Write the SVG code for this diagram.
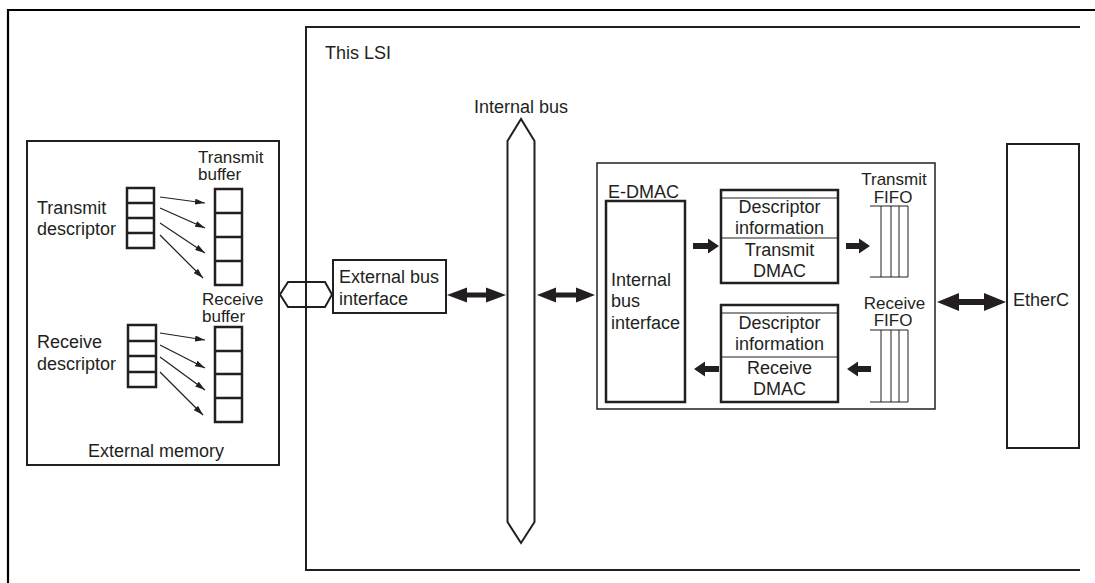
<svg xmlns="http://www.w3.org/2000/svg" width="1095" height="583" viewBox="0 0 1095 583">
<style>
text{font-family:"Liberation Sans",Arial,sans-serif;font-size:18px;fill:#231f20}
text.s{font-size:17px}
.m{text-anchor:middle}
.e{text-anchor:end}
.b{fill:none;stroke:#231f20;stroke-width:2}
.bt{fill:none;stroke:#231f20;stroke-width:2.5}
.t{fill:none;stroke:#231f20;stroke-width:1}
.thin{fill:none;stroke:#231f20;stroke-width:1.2;marker-end:url(#ah)}
.fa{fill:#231f20;stroke:none}
</style>
<defs>
<marker id="ah" viewBox="0 0 10 6" refX="10" refY="3" markerWidth="10" markerHeight="6" markerUnits="userSpaceOnUse" orient="auto">
<path d="M0,0 L10,3 L0,6 z" fill="#231f20"/>
</marker>
</defs>
<rect width="1095" height="583" fill="#fff"/>
<g id="frame">
<path d="M8,583 V10 H1095" fill="none" stroke="#000" stroke-width="2.2"/>
</g>
<g id="lsi">
<path d="M1080,27 H306 V570 H1080" class="b"/>
<text x="325" y="59">This LSI</text>
</g>
<g id="external-memory">
<rect x="27" y="141" width="252" height="324" class="b"/>
<text x="156" y="457" class="m">External memory</text>
<text x="198" y="163" class="s">Transmit</text>
<text x="198" y="180" class="s">buffer</text>
<text x="37" y="214">Transmit</text>
<text x="37" y="235">descriptor</text>
<text x="202" y="305" class="s">Receive</text>
<text x="202" y="322" class="s">buffer</text>
<text x="37" y="348">Receive</text>
<text x="37" y="370">descriptor</text>
<g id="tx-desc">
<rect x="127" y="188" width="27" height="60" class="bt"/>
<path d="M127,203 H154 M127,218 H154 M127,233 H154" class="bt"/>
</g>
<g id="tx-buf">
<rect x="215" y="189" width="27" height="96" class="bt"/>
<path d="M215,213 H242 M215,237 H242 M215,261 H242" class="bt"/>
</g>
<g id="rx-desc">
<rect x="128" y="325" width="28" height="62" class="bt"/>
<path d="M128,341 H156 M128,356 H156 M128,372 H156" class="bt"/>
</g>
<g id="rx-buf">
<rect x="215" y="327" width="27" height="95" class="bt"/>
<path d="M215,351 H242 M215,374 H242 M215,398 H242" class="bt"/>
</g>
</g>
<g id="connectors">
<line x1="160" y1="197" x2="205" y2="203" class="thin"/>
<line x1="160" y1="208" x2="205" y2="228" class="thin"/>
<line x1="160" y1="223" x2="205" y2="253" class="thin"/>
<line x1="160" y1="235" x2="203" y2="278" class="thin"/>
<line x1="160" y1="333" x2="205" y2="340" class="thin"/>
<line x1="160" y1="345" x2="205" y2="368" class="thin"/>
<line x1="160" y1="357" x2="205" y2="390" class="thin"/>
<line x1="160" y1="372" x2="203" y2="415" class="thin"/>
<polygon class="fa" points="447,295 467,287.5 467,292.5 486,292.5 486,287.5 506,295 486,302.5 486,297.5 467,297.5 467,302.5"/>
<polygon class="fa" points="537,295 556,287.5 556,292.5 576,292.5 576,287.5 595,295 576,302.5 576,297.5 556,297.5 556,302.5"/>
<polygon class="fa" points="937,302 959,293 959,299 984,299 984,293 1006,302 984,311 984,305 959,305 959,311"/>
<polygon class="fa" points="693,243 708,243 708,238.5 719,246 708,253.5 708,249 693,249"/>
<polygon class="fa" points="846,243 859,243 859,238.5 870,246 859,253.5 859,249 846,249"/>
<polygon class="fa" points="719,366 705,366 705,361.5 694,369 705,376.5 705,372 719,372"/>
<polygon class="fa" points="871,366 858,366 858,361.5 847,369 858,376.5 858,372 871,372"/>
</g>
<g id="ext-bus-connector">
<polygon points="280,294.5 288,282 325,282 332,294.5 325,307 288,307" class="b"/>
</g>
<g id="external-bus-interface">
<rect x="333" y="260" width="113" height="53" class="b"/>
<text x="339" y="283">External bus</text>
<text x="339" y="305">interface</text>
</g>
<g id="internal-bus">
<polygon points="521,119 507.5,141 507.5,522 521,543 534.5,522 534.5,141" class="b"/>
<text x="568" y="113" class="e">Internal bus</text>
</g>
<g id="edmac">
<rect x="597" y="163" width="338" height="246" fill="none" stroke="#231f20" stroke-width="1.5"/>
<text x="608" y="198">E-DMAC</text>
<g id="internal-bus-interface">
<rect x="606" y="201" width="79" height="201" class="bt"/>
<text x="611" y="286">Internal</text>
<text x="611" y="307">bus</text>
<text x="611" y="329">interface</text>
</g>
<g id="transmit-dmac">
<rect x="721" y="190" width="117" height="93" class="bt"/>
<path d="M721,198 H838 M721,238 H838" class="t"/>
<text x="779.5" y="213" class="m">Descriptor</text>
<text x="779.5" y="234" class="m">information</text>
<text x="779.5" y="256" class="m">Transmit</text>
<text x="779.5" y="277" class="m">DMAC</text>
</g>
<g id="receive-dmac">
<rect x="721" y="305" width="117" height="97" class="bt"/>
<path d="M721,313 H838 M721,357 H838" class="t"/>
<text x="779.5" y="329" class="m">Descriptor</text>
<text x="779.5" y="350" class="m">information</text>
<text x="779.5" y="374" class="m">Receive</text>
<text x="779.5" y="395" class="m">DMAC</text>
</g>
<g id="transmit-fifo">
<text x="894" y="185" class="m s">Transmit</text>
<text x="893" y="203" class="m s">FIFO</text>
<path d="M870,206 H908 M870,277 H908 M881,206 V277 M891,206 V277 M899,206 V277 M908,206 V277" class="t"/>
</g>
<g id="receive-fifo">
<text x="894.5" y="309" class="m s">Receive</text>
<text x="893" y="326" class="m s">FIFO</text>
<path d="M870,330 H908 M870,402 H908 M881,330 V402 M891,330 V402 M899,330 V402 M908,330 V402" class="t"/>
</g>
</g>
<g id="etherc">
<rect x="1007" y="144" width="72" height="304" class="b"/>
<text x="1013" y="306">EtherC</text>
</g>
</svg>
